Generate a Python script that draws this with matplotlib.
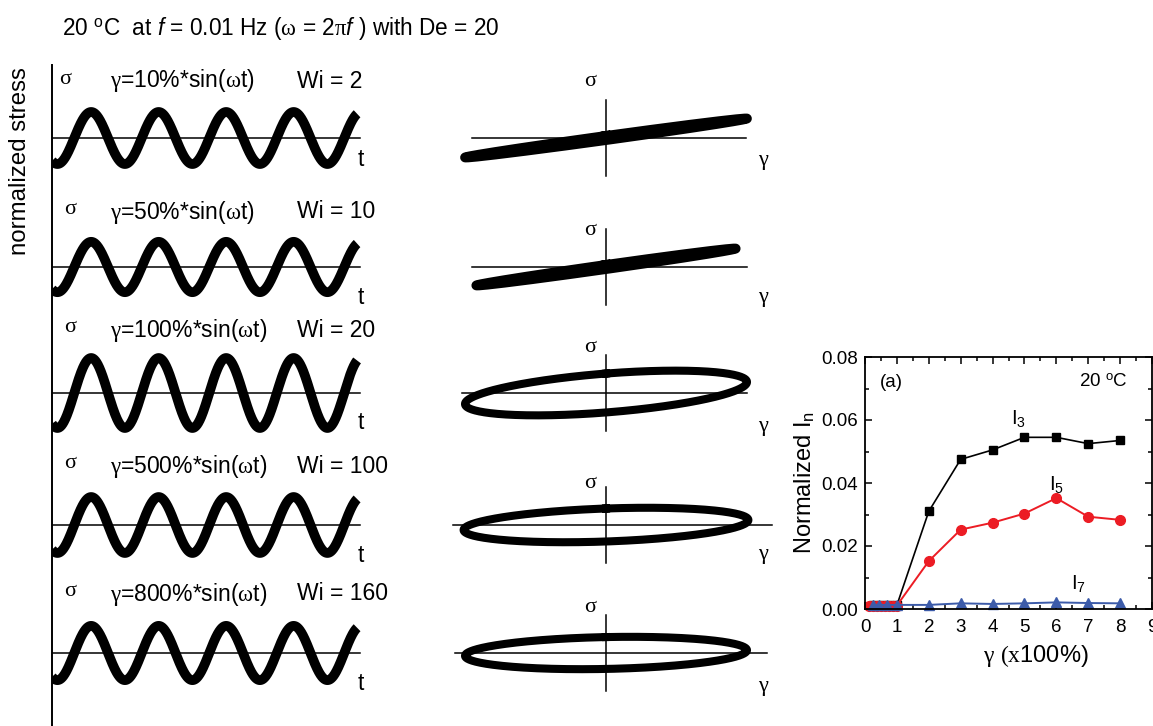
import numpy as np
import matplotlib.pyplot as plt
from matplotlib.lines import Line2D
from matplotlib.ticker import MultipleLocator

plt.rcParams['font.family'] = ['Liberation Sans', 'DejaVu Sans']
plt.rcParams['mathtext.fontset'] = 'custom'
plt.rcParams['mathtext.rm'] = 'Liberation Sans'
plt.rcParams['mathtext.it'] = 'Liberation Serif'
plt.rcParams['mathtext.sf'] = 'Liberation Sans:italic'
plt.rcParams['mathtext.tt'] = 'Liberation Serif'

# -----------------------------
# data
# -----------------------------
strain_pct = [10, 50, 100, 500, 800]
wi_values = [2, 10, 20, 100, 160]

# stress(t) panels: normalized amplitude, phase offset (periods), periods shown
sine_amp = [0.93, 0.90, 1.25, 1.00, 0.97]
sine_phase = 0.08
n_periods = 4.52

# Lissajous loops: strain amplitude, elastic slope, viscous opening
loop_amp = [1.00, 0.92, 1.00, 1.01, 1.00]
loop_slope = [0.138, 0.142, 0.078, 0.035, 0.020]
loop_open = [0.015, 0.015, 0.138, 0.117, 0.113]

# inset: normalized harmonic intensities vs strain amplitude (x100%)
i3_x = [0.25, 0.5, 0.75, 1, 2, 3, 4, 5, 6, 7, 8]
i3_y = [0.0012, 0.0012, 0.0012, 0.0012, 0.031, 0.0475, 0.0505, 0.0545, 0.0545, 0.0525, 0.0535]
i5_x = [0.12, 0.25, 0.38, 0.5, 0.62, 0.75, 0.88, 1, 2, 3, 4, 5, 6, 7, 8]
i5_y = [0.0011, 0.0011, 0.0011, 0.0011, 0.0011, 0.0011, 0.0011, 0.0011,
        0.0152, 0.0252, 0.0274, 0.0303, 0.0352, 0.0293, 0.0283]
i7_x = [0.25, 0.45, 0.68, 1, 2, 3, 4, 5, 6, 7, 8]
i7_y = [0.0013, 0.0013, 0.0013, 0.0013, 0.0013, 0.0018, 0.0016, 0.0018, 0.0021, 0.0019, 0.0018]

# -----------------------------
# layout helpers (pixel based)
# -----------------------------
W, H = 1153, 726
fig = plt.figure(figsize=(W / 100, H / 100), dpi=100)


def box(x0, y0, x1, y1):
    return [x0 / W, 1 - y1 / H, (x1 - x0) / W, (y1 - y0) / H]


def ftext(x, y, s, **kw):
    fig.text(x / W, 1 - y / H, s, **kw)


baselines = [138, 267, 393, 525, 653]
serif = 'Liberation Serif'

ftext(62, 28, r'20 $^{\mathrm{o}}$C  at $\mathsf{f}$ = 0.01 Hz ($\omega$ = 2$\pi$$\mathsf{f}$ ) with De = 20',
      fontsize=16.3, va='center')
ftext(20, 161, 'normalized stress', fontsize=17.3, rotation=90, ha='center', va='center')
fig.add_artist(Line2D([52 / W, 52 / W], [1 - 65 / H, 0], color='black', lw=1.4))

sig_x = [65, 70, 70, 70, 70]
label_dy = [-57, -55, -63, -59, -59]
t_dy = [22, 30, 30, 30, 30]
loop_sig_dy = [-57, -36, -46, -42, -45]
loop_gam_dy = [23, 30, 34, 30, 34]
loop_hline = [(472, 746), (472, 747), (462, 747), (453, 772), (455, 767)]

for i, base in enumerate(baselines):
    # --- stress vs time ---
    ax = fig.add_axes(box(52, base - 70, 362, base + 70))
    ax.set_xlim(0, 310 / 67.5)
    ax.set_ylim(-70 / 28, 70 / 28)
    ax.axis('off')
    t = np.linspace(0, n_periods, 800)
    ax.plot(t, -sine_amp[i] * np.cos(2 * np.pi * (t - sine_phase)),
            color='black', lw=7, solid_capstyle='butt')
    ax.axhline(0, xmax=308 / 310, color='black', lw=1.1)

    ftext(sig_x[i], base + label_dy[i] - 2, 'σ', family=serif, fontsize=16, ha='center', va='center')
    ftext(110, base + label_dy[i], r'$\gamma$=%d%%*sin($\omega$t)' % strain_pct[i],
          fontsize=16.5, va='center')
    ftext(297, base + label_dy[i], 'Wi = %d' % wi_values[i], fontsize=16.5, va='center')
    ftext(361, base + t_dy[i], 't', fontsize=16.5, ha='center', va='center')

    # --- Lissajous loop ---
    ax2 = fig.add_axes(box(436, base - 50, 776, base + 50))
    ax2.set_xlim(-170 / 141, 170 / 141)
    ax2.set_ylim(-50 / 141, 50 / 141)
    ax2.axis('off')
    th = np.linspace(0, 2 * np.pi, 500)
    g = loop_amp[i] * np.sin(th)
    s = loop_slope[i] * g + loop_open[i] * np.cos(th)
    ax2.plot(g, s, color='black', lw=7 if i < 2 else 5.8, clip_on=False)
    x0, x1 = loop_hline[i]
    ax2.axhline(0, xmin=(x0 - 436) / 340, xmax=(x1 - 436) / 340, color='black', lw=1.1)
    ax2.axvline(0, ymin=0.12, ymax=0.88, color='black', lw=1.1)
    ftext(590, base + loop_sig_dy[i], 'σ', family=serif, fontsize=16, ha='center', va='center')
    ftext(763, base + loop_gam_dy[i], 'γ', family=serif, fontsize=16, ha='center', va='center')

# -----------------------------
# inset: harmonic intensities
# -----------------------------
ax3 = fig.add_axes(box(865, 357, 1152, 609))
ax3.plot(i3_x, i3_y, color='black', marker='s', ms=6, lw=1.2, clip_on=False)
ax3.plot(i5_x, i5_y, color='#ec1c24', marker='o', ms=7, lw=1.4, clip_on=False)
ax3.plot(i7_x, i7_y, color='#3c5ba9', marker='^', ms=7.5, lw=1.4, clip_on=False)
ax3.set_xlim(0, 9)
ax3.set_ylim(0, 0.08)
ax3.xaxis.set_major_locator(MultipleLocator(1))
ax3.xaxis.set_minor_locator(MultipleLocator(0.5))
ax3.yaxis.set_major_locator(MultipleLocator(0.02))
ax3.yaxis.set_minor_locator(MultipleLocator(0.01))
ax3.yaxis.set_major_formatter(plt.FormatStrFormatter('%.2f'))
ax3.tick_params(which='both', direction='in', top=True, right=True, width=1.1, labelsize=13.5)
ax3.tick_params(which='major', length=5)
ax3.tick_params(which='minor', length=3)
ax3.tick_params(axis='x', pad=7)
ax3.tick_params(axis='y', pad=5)
for sp in ax3.spines.values():
    sp.set_linewidth(1.3)
ax3.set_ylabel(r'Normalized I$_\mathrm{n}$', fontsize=17, labelpad=3)
ax3.set_xlabel(r'$\gamma$ $\mathtt{(x}$100%)', fontsize=17, labelpad=5)
ax3.xaxis.set_label_coords(0.596, -0.135)
ax3.text(0.82, 0.0719, '(a)', fontsize=13.5, ha='center', va='center')
ax3.text(8.25, 0.0719, r'20 $^{\mathrm{o}}$C', fontsize=13.5, ha='right', va='center')
ax3.text(4.8, 0.0605, r'I$_3$', fontsize=14.5, ha='center', va='center')
ax3.text(6.0, 0.0394, r'I$_5$', fontsize=14.5, ha='center', va='center')
ax3.text(6.7, 0.0081, r'I$_7$', fontsize=14.5, ha='center', va='center')

fig.savefig('out.png', dpi=100)
